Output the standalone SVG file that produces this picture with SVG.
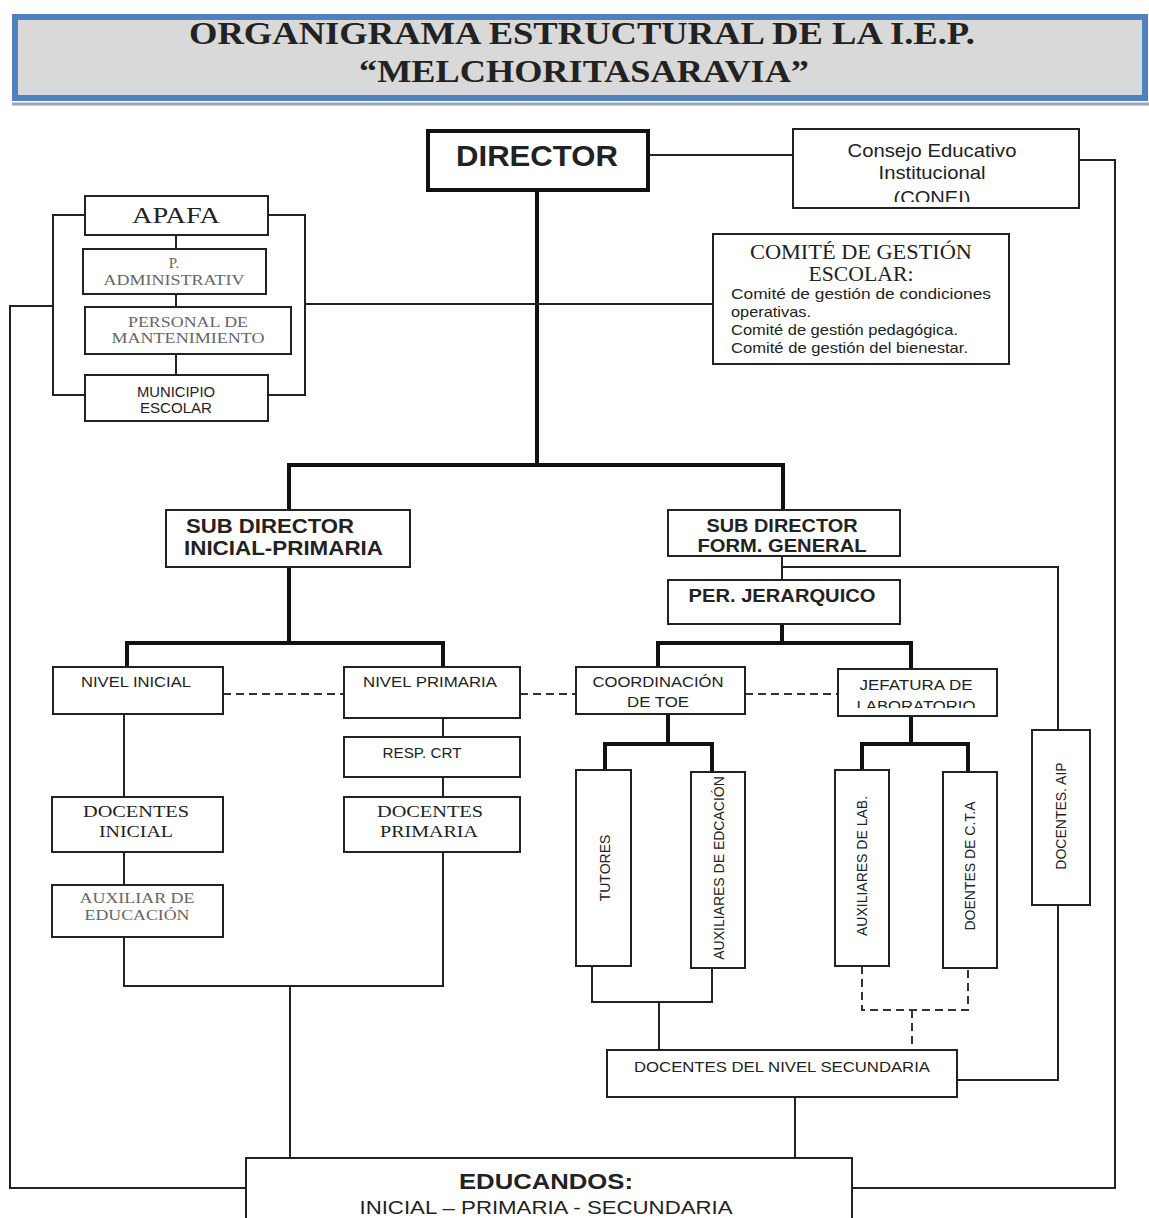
<svg xmlns="http://www.w3.org/2000/svg" width="1149" height="1218" viewBox="0 0 1149 1218">
<style>
.box{fill:#fff;stroke:#222;stroke-width:2}
.thick{fill:none;stroke:#111;stroke-width:4}
.thin{fill:none;stroke:#222;stroke-width:2}
.dash{fill:none;stroke:#333;stroke-width:2;stroke-dasharray:8,5}
.ar{font-family:"Liberation Sans",Arial,sans-serif;fill:#222}
.tm{font-family:"Liberation Serif","Times New Roman",serif;fill:#222}
.gr{fill:#666}
.c{text-anchor:middle}
</style>
<rect width="1149" height="1218" fill="#fff"/>
<g id="title">
<rect x="15" y="17" width="1130" height="81" fill="#d9d9d9" stroke="#4f81bd" stroke-width="6"/>
<line x1="12" y1="104" x2="1149" y2="104" stroke="#9aa5b5" stroke-width="3"/>
<text class="tm c" x="582" y="44" font-size="31" font-weight="bold" textLength="786" lengthAdjust="spacingAndGlyphs">ORGANIGRAMA ESTRUCTURAL DE LA I.E.P.</text>
<text class="tm c" x="584" y="82" font-size="31" font-weight="bold" textLength="450" lengthAdjust="spacingAndGlyphs">“MELCHORITASARAVIA”</text>
</g>
<g id="connectors">
<path class="thick" d="M537 190 V465 M289 465 H783 M289 463 V510 M783 463 V510"/>
<path class="thin" d="M648 155 H793"/>
<path class="thin" d="M1079 160 H1115 V1188 H852"/>
<path class="thin" d="M176 235 V249 M176 294 V307 M176 354 V375"/>
<path class="thin" d="M85 215 H53 V395 H85 M268 215 H305 V395 H268"/>
<path class="thin" d="M305 304 H713"/>
<path class="thin" d="M53 306 H10 V1188 H246"/>
<path class="thick" d="M289 567 V643 M127 643 H443 M127 641 V667 M443 641 V667"/>
<path class="thin" d="M782 556 V580 M782 567 H1058 V730"/>
<path class="thick" d="M782 624 V643 M658 643 H911 M658 641 V667 M911 641 V669"/>
<path class="dash" d="M223 694 H344 M520 694 H576 M745 694 H838"/>
<path class="thin" d="M124 714 V797 M124 852 V885 M124 937 V986 H443 V852 M443 718 V737 M443 777 V797 M290 986 V1158"/>
<path class="thick" d="M668 714 V744 M605 744 H712 M605 742 V770 M712 742 V772"/>
<path class="thick" d="M911 716 V744 M862 744 H968 M862 742 V770 M968 742 V772"/>
<path class="thin" d="M592 966 V1002 H712 V968 M659 1002 V1050"/>
<path class="dash" d="M862 966 V1010 H968 V968 M912 1010 V1050"/>
<path class="thin" d="M1058 905 V1080 H957 M795 1097 V1158"/>
</g>
<g id="director">
<rect x="428" y="131" width="220" height="59" fill="#fff" stroke="#111" stroke-width="4"/>
<text class="ar c" x="537" y="166" font-size="29" font-weight="bold" textLength="162" lengthAdjust="spacingAndGlyphs">DIRECTOR</text>
</g>
<g id="conei">
<rect class="box" x="793" y="129" width="286" height="79"/>
<text class="ar c" x="932" y="157" font-size="19" textLength="169" lengthAdjust="spacingAndGlyphs">Consejo Educativo</text>
<text class="ar c" x="932" y="179" font-size="19" textLength="107" lengthAdjust="spacingAndGlyphs">Institucional</text>
<text class="ar c" x="932" y="204" font-size="19" textLength="77" lengthAdjust="spacingAndGlyphs">(CONEI)</text>
<rect x="795" y="202" width="282" height="5" fill="#fff"/>
</g>
<g id="apafa">
<rect class="box" x="85" y="196" width="183" height="39"/>
<text class="tm c" x="176" y="223" font-size="23" textLength="88" lengthAdjust="spacingAndGlyphs">APAFA</text>
</g>
<g id="padmin">
<rect class="box" x="83" y="249" width="183" height="45"/>
<text class="tm c gr" x="174" y="268" font-size="15">P.</text>
<text class="tm c gr" x="174" y="285" font-size="15" textLength="141" lengthAdjust="spacingAndGlyphs">ADMINISTRATIV</text>
</g>
<g id="mantenimiento">
<rect class="box" x="85" y="307" width="206" height="47"/>
<text class="tm c gr" x="188" y="327" font-size="15" textLength="120" lengthAdjust="spacingAndGlyphs">PERSONAL DE</text>
<text class="tm c gr" x="188" y="343" font-size="15" textLength="153" lengthAdjust="spacingAndGlyphs">MANTENIMIENTO</text>
</g>
<g id="municipio">
<rect class="box" x="85" y="375" width="183" height="46"/>
<text class="ar c" x="176" y="397" font-size="14" textLength="78" lengthAdjust="spacingAndGlyphs">MUNICIPIO</text>
<text class="ar c" x="176" y="413" font-size="14" textLength="72" lengthAdjust="spacingAndGlyphs">ESCOLAR</text>
</g>
<g id="comite">
<rect class="box" x="713" y="234" width="296" height="130"/>
<text class="tm c" x="861" y="259" font-size="21" textLength="222" lengthAdjust="spacingAndGlyphs">COMITÉ DE GESTIÓN</text>
<text class="tm c" x="861" y="281" font-size="21" textLength="105" lengthAdjust="spacingAndGlyphs">ESCOLAR:</text>
<text class="ar" x="731" y="299" font-size="15" textLength="260" lengthAdjust="spacingAndGlyphs">Comité de gestión de condiciones</text>
<text class="ar" x="731" y="317" font-size="15" textLength="80" lengthAdjust="spacingAndGlyphs">operativas.</text>
<text class="ar" x="731" y="335" font-size="15" textLength="227" lengthAdjust="spacingAndGlyphs">Comité de gestión pedagógica.</text>
<text class="ar" x="731" y="353" font-size="15" textLength="237" lengthAdjust="spacingAndGlyphs">Comité de gestión del bienestar.</text>
</g>
<g id="subdir-ip">
<rect class="box" x="166" y="510" width="244" height="57"/>
<text class="ar" x="186" y="533" font-size="20" font-weight="bold" textLength="168" lengthAdjust="spacingAndGlyphs">SUB DIRECTOR</text>
<text class="ar" x="184" y="555" font-size="20" font-weight="bold" textLength="199" lengthAdjust="spacingAndGlyphs">INICIAL-PRIMARIA</text>
</g>
<g id="subdir-fg">
<rect class="box" x="668" y="510" width="232" height="46"/>
<text class="ar c" x="782" y="532" font-size="19" font-weight="bold" textLength="151" lengthAdjust="spacingAndGlyphs">SUB DIRECTOR</text>
<text class="ar c" x="782" y="552" font-size="19" font-weight="bold" textLength="169" lengthAdjust="spacingAndGlyphs">FORM. GENERAL</text>
</g>
<g id="per-jerarquico">
<rect class="box" x="668" y="580" width="232" height="44"/>
<text class="ar c" x="782" y="602" font-size="19" font-weight="bold" textLength="187" lengthAdjust="spacingAndGlyphs">PER. JERARQUICO</text>
</g>
<g id="nivel-inicial">
<rect class="box" x="53" y="667" width="170" height="47"/>
<text class="ar c" x="136" y="687" font-size="15" textLength="110" lengthAdjust="spacingAndGlyphs">NIVEL INICIAL</text>
</g>
<g id="nivel-primaria">
<rect class="box" x="344" y="667" width="176" height="51"/>
<text class="ar c" x="430" y="687" font-size="15" textLength="134" lengthAdjust="spacingAndGlyphs">NIVEL PRIMARIA</text>
</g>
<g id="coord-toe">
<rect class="box" x="576" y="667" width="169" height="47"/>
<text class="ar c" x="658" y="687" font-size="15" textLength="131" lengthAdjust="spacingAndGlyphs">COORDINACIÓN</text>
<text class="ar c" x="658" y="707" font-size="15" textLength="62" lengthAdjust="spacingAndGlyphs">DE TOE</text>
</g>
<g id="jefatura-lab">
<rect class="box" x="838" y="669" width="159" height="47"/>
<text class="ar c" x="916" y="690" font-size="15" textLength="113" lengthAdjust="spacingAndGlyphs">JEFATURA DE</text>
<text class="ar c" x="916" y="711" font-size="15" textLength="119" lengthAdjust="spacingAndGlyphs">LABORATORIO</text>
<rect x="840" y="708" width="155" height="7" fill="#fff"/>
</g>
<g id="resp-crt">
<rect class="box" x="344" y="737" width="176" height="40"/>
<text class="ar c" x="422" y="758" font-size="14" textLength="79" lengthAdjust="spacingAndGlyphs">RESP. CRT</text>
</g>
<g id="docentes-inicial">
<rect class="box" x="52" y="797" width="171" height="55"/>
<text class="tm c" x="136" y="817" font-size="17" textLength="106" lengthAdjust="spacingAndGlyphs">DOCENTES</text>
<text class="tm c" x="136" y="837" font-size="17" textLength="74" lengthAdjust="spacingAndGlyphs">INICIAL</text>
</g>
<g id="docentes-primaria">
<rect class="box" x="344" y="797" width="176" height="55"/>
<text class="tm c" x="430" y="817" font-size="17" textLength="106" lengthAdjust="spacingAndGlyphs">DOCENTES</text>
<text class="tm c" x="429" y="837" font-size="17" textLength="98" lengthAdjust="spacingAndGlyphs">PRIMARIA</text>
</g>
<g id="auxiliar-educacion">
<rect class="box" x="52" y="885" width="171" height="52"/>
<text class="tm c gr" x="137" y="903" font-size="15" textLength="115" lengthAdjust="spacingAndGlyphs">AUXILIAR DE</text>
<text class="tm c gr" x="137" y="920" font-size="15" textLength="105" lengthAdjust="spacingAndGlyphs">EDUCACIÓN</text>
</g>
<g id="tutores">
<rect class="box" x="576" y="770" width="55" height="196"/>
<text class="ar c" transform="translate(610 868) rotate(-90)" font-size="14">TUTORES</text>
</g>
<g id="aux-educacion">
<rect class="box" x="691" y="772" width="54" height="196"/>
<text class="ar c" transform="translate(724 868) rotate(-90)" font-size="14">AUXILIARES DE EDCACIÓN</text>
</g>
<g id="aux-lab">
<rect class="box" x="835" y="770" width="54" height="196"/>
<text class="ar c" transform="translate(867 866) rotate(-90)" font-size="14">AUXILIARES DE  LAB.</text>
</g>
<g id="docentes-cta">
<rect class="box" x="943" y="772" width="54" height="196"/>
<text class="ar c" transform="translate(975 866) rotate(-90)" font-size="14">DOENTES DE C.T.A</text>
</g>
<g id="docentes-aip">
<rect class="box" x="1032" y="730" width="58" height="175"/>
<text class="ar c" transform="translate(1066 816) rotate(-90)" font-size="14">DOCENTES. AIP</text>
</g>
<g id="docentes-secundaria">
<rect class="box" x="607" y="1050" width="350" height="47"/>
<text class="ar c" x="782" y="1072" font-size="15" textLength="296" lengthAdjust="spacingAndGlyphs">DOCENTES DEL NIVEL SECUNDARIA</text>
</g>
<g id="educandos">
<rect class="box" x="246" y="1158" width="606" height="70"/>
<text class="ar c" x="546" y="1189" font-size="22" font-weight="bold" textLength="174" lengthAdjust="spacingAndGlyphs">EDUCANDOS:</text>
<text class="ar c" x="546" y="1214" font-size="19" textLength="373" lengthAdjust="spacingAndGlyphs">INICIAL – PRIMARIA - SECUNDARIA</text>
</g>
</svg>
